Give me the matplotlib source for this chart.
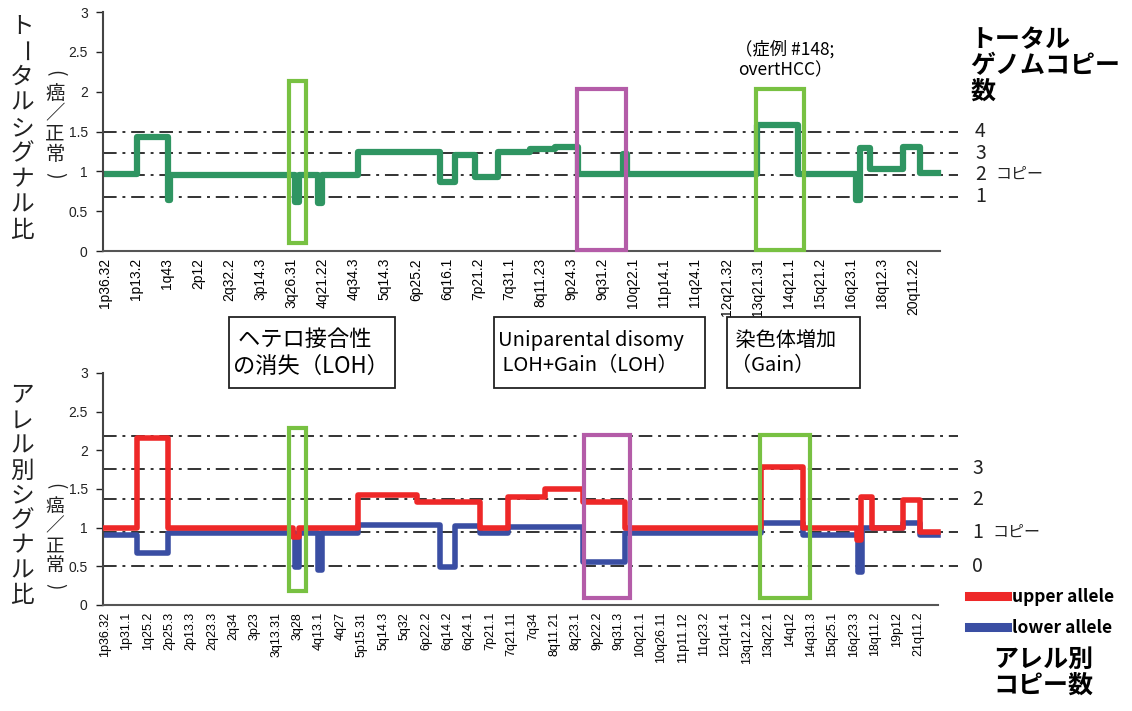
import numpy as np
import matplotlib.pyplot as plt
from matplotlib.patches import Rectangle

## データ（位置は任意単位、画像から読み取り）

# 上段：トータルシグナル比
total_bp = [-0.2, 3.2, 6.3, 6.5, 19.0, 19.4, 21.3, 21.7, 25.3, 33.5, 35.0, 37.0, 39.3,
            42.5, 45.0, 47.3, 51.8, 52.2, 65.2, 69.3, 75.1, 75.5, 76.5, 79.8, 81.5, 83.3]
total_lv = [0.97, 1.43, 0.64, 0.96, 0.62, 0.96, 0.60, 0.96, 1.24, 0.87, 1.20, 0.93, 1.24,
            1.28, 1.31, 0.97, 1.22, 0.97, 1.58, 0.97, 0.64, 1.29, 1.03, 1.31, 0.98]

# 下段：アレル別シグナル比
upper_bp = [-0.2, 3.2, 6.3, 18.8, 19.4, 25.3, 31.2, 37.5, 40.3, 44.0, 47.8, 52.0, 65.6,
            69.8, 75.2, 75.6, 76.7, 79.8, 81.5, 83.3]
upper_lv = [1.00, 2.16, 1.00, 0.88, 1.00, 1.42, 1.33, 1.00, 1.40, 1.50, 1.33, 1.00, 1.78,
            1.00, 0.84, 1.40, 1.00, 1.36, 0.95]

lower_bp = [-0.2, 3.2, 6.3, 19.0, 19.4, 21.3, 21.7, 25.3, 33.5, 35.0, 37.5, 40.3, 47.8,
            52.0, 65.6, 69.8, 75.3, 75.7, 79.8, 81.5, 83.3]
lower_lv = [0.90, 0.67, 0.93, 0.49, 0.93, 0.45, 0.93, 1.03, 0.49, 1.02, 0.93, 1.01, 0.56,
            0.93, 1.06, 0.90, 0.43, 1.00, 1.06, 0.90]

# コピー数の基準線
total_ref = [1.50, 1.23, 0.96, 0.68]
total_ref_lab = ["4", "3", "2", "1"]
allele_ref = [2.19, 1.76, 1.37, 0.94, 0.50]
allele_ref_lab = ["", "3", "2", "1", "0"]

top_ticks = ["1p36.32", "1p13.2", "1q43", "2p12", "2q32.2", "3p14.3", "3q26.31", "4q21.22",
             "4q34.3", "5q14.3", "6p25.2", "6q16.1", "7p21.2", "7q31.1", "8q11.23", "9p24.3",
             "9q31.2", "10q22.1", "11p14.1", "11q24.1", "12q21.32", "13q21.31", "14q21.1",
             "15q21.2", "16q23.1", "18q12.3", "20q11.22"]
bot_ticks = ["1p36.32", "1p31.1", "1q25.2", "2p25.3", "2p13.3", "2q23.3", "2q34", "3p23",
             "3q13.31", "3q28", "4q13.1", "4q27", "5p15.31", "5q14.3", "5q32", "6p22.2",
             "6q14.2", "6q24.1", "7p21.1", "7q21.11", "7q34", "8q11.21", "8q23.1", "9p22.2",
             "9q31.3", "10q21.1", "10q26.11", "11p11.12", "11q23.2", "12q14.1", "13q12.12",
             "13q22.1", "14q12", "14q31.3", "15q25.1", "16q23.3", "18q11.2", "19p12", "21q11.2"]

# 注目領域 (x0, x1, y0, y1, 色)
top_boxes = [(18.4, 20.1, 0.10, 2.13, "green"), (47.2, 52.1, 0.01, 2.03, "purple"),
             (65.1, 69.9, 0.01, 2.03, "green")]
bot_boxes = [(18.4, 20.1, 0.18, 2.29, "green"), (47.9, 52.5, 0.09, 2.20, "purple"),
             (65.5, 70.5, 0.09, 2.20, "green")]

JP = ["Noto Sans CJK JP", "DejaVu Sans"]
plt.rcParams['font.family'] = ["Liberation Sans Narrow", "Liberation Sans", "DejaVu Sans"]

W, H = 1132, 711
c_green = "#2f9562"
c_red = "#ee2828"
c_blue = "#3a4ea3"
box_col = {"green": "#78c142", "purple": "#b45ca8"}

fig = plt.figure(figsize=(W / 100, H / 100), dpi=100)
ax1 = fig.add_axes([103 / W, 1 - 251 / H, (958 - 103) / W, (251 - 12) / H])
ax2 = fig.add_axes([103 / W, 1 - 605 / H, (958 - 103) / W, (605 - 373) / H])


def setup(ax, ticks, labels, fs, end):
    ax.set_xlim(-0.2, 85.3)
    ax.set_ylim(0, 3)
    ax.set_yticks(np.arange(0, 3.01, 0.5))
    ax.set_yticklabels(["0", "0.5", "1", "1.5", "2", "2.5", "3"], fontsize=10)
    ax.set_xticks(ticks)
    ax.set_xticklabels(labels, rotation=90, fontsize=fs)
    ax.tick_params(axis='x', length=0, pad=5)
    ax.tick_params(axis='y', length=5, width=1, pad=6, colors="#222222")
    for s in ["top", "right"]:
        ax.spines[s].set_visible(False)
    ax.spines["left"].set_linewidth(1.5)
    ax.spines["bottom"].set_linewidth(1.5)
    ax.spines["left"].set_color("#444444")
    ax.spines["bottom"].set_color("#555555")
    ax.spines["bottom"].set_bounds(-0.2, end)
    ax.patch.set_alpha(0)


setup(ax1, np.linspace(0, 80.8, 27), top_ticks, 10, 83.5)
setup(ax2, np.linspace(0, 81.3, 39), bot_ticks, 9, 83.3)

dash = (0, (7, 3, 1.5, 3))
for v in total_ref:
    ax1.axhline(v, color="#333333", lw=1.4, ls=dash, zorder=1)
for v in allele_ref:
    ax2.axhline(v, color="#333333", lw=1.4, ls=dash, zorder=1)

ax1.plot(total_bp, total_lv + [total_lv[-1]], drawstyle="steps-post", color=c_green, lw=4.5, zorder=2)
ax2.plot(lower_bp, lower_lv + [lower_lv[-1]], drawstyle="steps-post", color=c_blue, lw=4, zorder=2,
         label="lower allele")
ax2.plot(upper_bp, upper_lv + [upper_lv[-1]], drawstyle="steps-post", color=c_red, lw=4, zorder=3,
         label="upper allele")

for ax, boxes in [(ax1, top_boxes), (ax2, bot_boxes)]:
    for x0, x1, y0, y1, c in boxes:
        ax.add_patch(Rectangle((x0, y0), x1 - x0, y1 - y0, fill=False, lw=3,
                               edgecolor=box_col[c], zorder=5, clip_on=False))

# 右側のコピー数ラベル
for v, t in zip(total_ref, total_ref_lab):
    ax1.text(87.0, v, t, fontsize=14, va="center", ha="left", family=JP, color="#222222")
ax1.text(89.0, total_ref[2], "コピー", fontsize=11.5, va="center", ha="left", family=JP, color="#222222")
for v, t in zip(allele_ref, allele_ref_lab):
    ax2.text(86.7, v, t, fontsize=14, va="center", ha="left", family=JP, color="#222222")
ax2.text(88.7, allele_ref[3], "コピー", fontsize=11.5, va="center", ha="left", family=JP, color="#222222")

# 凡例
h, l = ax2.get_legend_handles_labels()
leg = ax2.legend(h[::-1], l[::-1], loc="upper left", bbox_to_anchor=(969 / W, 1 - 588 / H),
                 bbox_transform=fig.transFigure, frameon=False,
                 prop=dict(family=JP, weight="bold", size=12.5),
                 handlelength=2.2, handletextpad=0.3, labelspacing=0.75,
                 borderpad=0, borderaxespad=0)
for ln in leg.get_lines():
    ln.set_linewidth(6.5)

# 見出しテキスト
fig.text(970 / W, 1 - 28 / H, "トータル\nゲノムコピー\n数", fontsize=18, weight="bold",
         family=JP, ha="left", va="top", linespacing=1.1)
fig.text(993 / W, 1 - 648 / H, "アレル別\nコピー数", fontsize=18, weight="bold",
         family=JP, ha="left", va="top", linespacing=1.1)
fig.text(785 / W, 1 - 60 / H, "（症例 #148;\novertHCC）", fontsize=12.5,
         family=JP, ha="center", va="center", linespacing=1.2)


# 左側の縦書きラベル（1文字ずつ配置、括弧と長音は回転）
def vtext(x, y0, step, s, fs):
    for i, ch in enumerate(s):
        rot = -90 if ch in "ー()" else 0
        fig.text(x / W, 1 - (y0 + i * step) / H, ch, fontsize=fs, family=JP, ha="center",
                 va="center", rotation=rot, color="#222222")


vtext(22, 26, 25.6, "トータルシグナル比", 17)
vtext(55, 73, 20.5, "(癌／正常)", 14)
vtext(22, 396, 25.0, "アレル別シグナル比", 17)
vtext(55, 486, 20.0, "(癌／正常)", 13.5)

# 説明ボックス
notes = [(229, 395, " ヘテロ接合性\nの消失（LOH）", 16),
         (494, 705, "Uniparental disomy\n LOH+Gain（LOH）", 14.5),
         (727, 860, " 染色体増加\n（Gain）", 14.5)]
for x0, x1, t, fs in notes:
    fig.add_artist(Rectangle((x0 / W, 1 - 388 / H), (x1 - x0) / W, 71 / H, fill=False,
                             lw=1.3, edgecolor="#222222", transform=fig.transFigure))
    fig.text((x0 + 4) / W, 1 - 353 / H, t, fontsize=fs, family=JP, ha="left", va="center",
             linespacing=1.2)

fig.savefig("out.png", dpi=100)
